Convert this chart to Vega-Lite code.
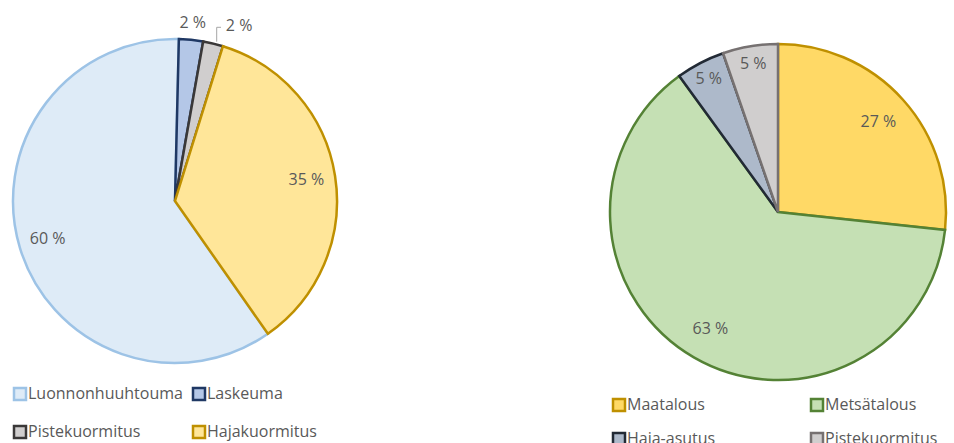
{
  "$schema": "https://vega.github.io/schema/vega-lite/v6.json",
  "padding": 0,
  "autosize": {"type": "pad"},
  "background": "white",
  "bounds": "flush",
  "spacing": 260,
  "config": {
    "view": {"stroke": null},
    "legend": {
      "labelFont": "Open Sans",
      "labelFontSize": 16,
      "labelColor": "#595959",
      "symbolType": "square",
      "symbolSize": 144,
      "symbolStrokeWidth": 2.5,
      "labelOffset": 0,
      "padding": 0
    },
    "text": {"font": "Open Sans", "fontSize": 16, "fill": "#595959"}
  },
  "resolve": {
    "scale": {"fill": "independent", "stroke": "independent", "theta": "independent", "x": "independent", "y": "independent"},
    "legend": {"fill": "independent", "stroke": "independent"}
  },
  "hconcat": [
    {
      "width": 350,
      "height": 402,
      "data": {"values": [
        {"cat": "Luonnonhuuhtouma", "value": 60.1, "pct": "60 %", "ord": 1},
        {"cat": "Laskeuma", "value": 2.4, "pct": "2 %", "ord": 2},
        {"cat": "Pistekuormitus", "value": 2.0, "pct": "2 %", "ord": 3},
        {"cat": "Hajakuormitus", "value": 35.5, "pct": "35 %", "ord": 4}
      ]},
      "transform": [
        {"stack": "value", "groupby": [], "sort": [{"field": "ord"}], "as": ["v0", "v1"]},
        {"calculate": "(datum.v0 + datum.v1) / 2", "as": "mid"}
      ],
      "layer": [
        {
          "mark": {"type": "arc", "outerRadius": 162, "strokeWidth": 2.5},
          "encoding": {
            "theta": {"field": "v0", "type": "quantitative", "stack": null, "scale": {"domain": [0, 100], "range": [2.531, 8.814]}},
            "theta2": {"field": "v1"},
            "order": {"field": "ord"},
            "fill": {"field": "cat", "type": "nominal",
              "scale": {"domain": ["Luonnonhuuhtouma", "Laskeuma", "Pistekuormitus", "Hajakuormitus"], "range": ["#DEEBF7", "#B4C7E7", "#D0CECE", "#FFE699"]},
              "legend": {"title": null, "orient": "none", "direction": "horizontal", "legendX": 12, "legendY": 386, "columns": 2, "columnPadding": 5, "rowPadding": 16}},
            "stroke": {"field": "cat", "type": "nominal",
              "scale": {"domain": ["Luonnonhuuhtouma", "Laskeuma", "Pistekuormitus", "Hajakuormitus"], "range": ["#9DC3E6", "#1F3864", "#3A3838", "#BF9000"]},
              "legend": {"title": null, "orient": "none", "direction": "horizontal", "legendX": 12, "legendY": 386, "columns": 2, "columnPadding": 5, "rowPadding": 16}}
          }
        },
        {
          "transform": [{"filter": "datum.value > 10"}],
          "mark": {"type": "text", "radius": 133, "align": "center", "baseline": "middle"},
          "encoding": {
            "theta": {"field": "mid", "type": "quantitative", "stack": null},
            "text": {"field": "pct"}
          }
        },
        {
          "transform": [{"filter": "datum.cat == 'Laskeuma'"}],
          "mark": {"type": "text", "radius": 179, "align": "center", "baseline": "middle"},
          "encoding": {
            "theta": {"field": "mid", "type": "quantitative", "stack": null},
            "text": {"field": "pct"}
          }
        },
        {
          "transform": [{"filter": "datum.cat == 'Pistekuormitus'"}],
          "mark": {"type": "text", "radius": 179, "align": "center", "baseline": "middle", "dx": 22, "dy": -1},
          "encoding": {
            "theta": {"field": "mid", "type": "quantitative", "stack": null},
            "text": {"field": "pct"}
          }
        },
        {
          "data": {"values": [
            {"i": 1, "lx": 41.7, "ly": 159.3},
            {"i": 2, "lx": 41.7, "ly": 173.7},
            {"i": 3, "lx": 46, "ly": 173.7}
          ]},
          "mark": {"type": "line", "stroke": "#A6A6A6", "strokeWidth": 1},
          "encoding": {
            "x": {"field": "lx", "type": "quantitative", "axis": null, "scale": {"domain": [-175, 175]}},
            "y": {"field": "ly", "type": "quantitative", "axis": null, "scale": {"domain": [-201, 201]}},
            "order": {"field": "i"}
          }
        }
      ]
    },
    {
      "width": 336,
      "height": 424,
      "data": {"values": [
        {"cat": "Maatalous", "value": 26.7, "pct": "27 %", "ord": 1},
        {"cat": "Metsätalous", "value": 63.3, "pct": "63 %", "ord": 2},
        {"cat": "Haja-asutus", "value": 4.7, "pct": "5 %", "ord": 3},
        {"cat": "Pistekuormitus", "value": 5.3, "pct": "5 %", "ord": 4}
      ]},
      "transform": [
        {"stack": "value", "groupby": [], "sort": [{"field": "ord"}], "as": ["v0", "v1"]},
        {"calculate": "(datum.v0 + datum.v1) / 2", "as": "mid"}
      ],
      "layer": [
        {
          "mark": {"type": "arc", "outerRadius": 168, "strokeWidth": 2.5},
          "encoding": {
            "theta": {"field": "v0", "type": "quantitative", "stack": null, "scale": {"domain": [0, 100], "range": [0, 6.2832]}},
            "theta2": {"field": "v1"},
            "order": {"field": "ord"},
            "fill": {"field": "cat", "type": "nominal",
              "scale": {"domain": ["Maatalous", "Metsätalous", "Haja-asutus", "Pistekuormitus"], "range": ["#FFD966", "#C5E0B4", "#ADB9CA", "#D0CECE"]},
              "legend": {"title": null, "orient": "none", "direction": "horizontal", "legendX": 1, "legendY": 397, "columns": 2, "columnPadding": 90, "rowPadding": 12}},
            "stroke": {"field": "cat", "type": "nominal",
              "scale": {"domain": ["Maatalous", "Metsätalous", "Haja-asutus", "Pistekuormitus"], "range": ["#BF9000", "#548235", "#222A35", "#767171"]},
              "legend": {"title": null, "orient": "none", "direction": "horizontal", "legendX": 1, "legendY": 397, "columns": 2, "columnPadding": 90, "rowPadding": 12}}
          }
        },
        {
          "transform": [{"filter": "datum.value > 10"}],
          "mark": {"type": "text", "radius": 135, "align": "center", "baseline": "middle"},
          "encoding": {
            "theta": {"field": "mid", "type": "quantitative", "stack": null},
            "text": {"field": "pct"}
          }
        },
        {
          "transform": [{"filter": "datum.value <= 10"}],
          "mark": {"type": "text", "radius": 150, "align": "center", "baseline": "middle"},
          "encoding": {
            "theta": {"field": "mid", "type": "quantitative", "stack": null},
            "text": {"field": "pct"}
          }
        }
      ]
    }
  ]
}
